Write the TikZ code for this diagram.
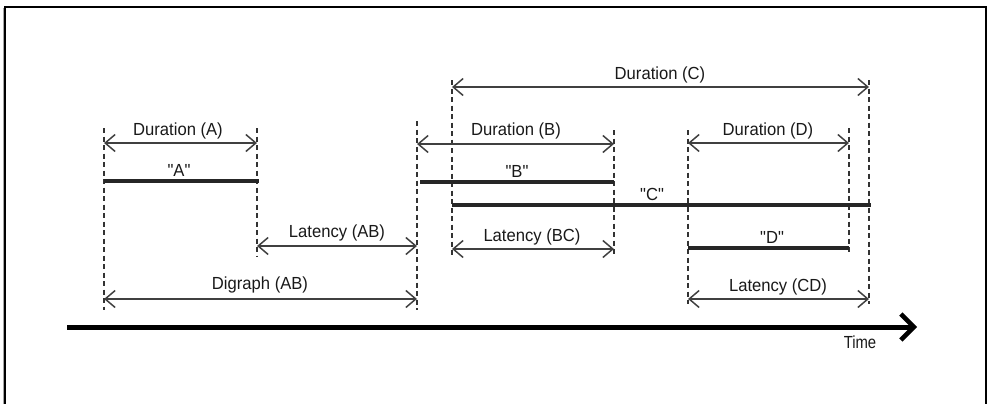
\documentclass[tikz,border=0pt]{standalone}
\usepackage{fontspec}
\newfontfamily\arialfont{Liberation Sans}
\usetikzlibrary{arrows.meta}
\begin{document}
\begin{tikzpicture}[x=1pt,y=-1pt,
  lbl/.style={font=\arialfont\fontsize{17.5}{19}\selectfont, inner sep=0pt, text=black!90, xscale=0.95},
  span/.style={draw=black!75, line width=1.7pt, {Straight Barb[length=10pt,width=17pt,line width=1.5pt]}-{Straight Barb[length=10pt,width=17pt,line width=1.5pt]}},
  event/.style={draw=black!85, line width=3.2pt},
  guide/.style={draw=black!80, line width=1.1pt, dash pattern=on 5pt off 3.5pt},
  timeaxis/.style={draw=black, line width=5pt, -{Straight Barb[length=13pt,width=26pt,line width=4.5pt]}}]
\useasboundingbox (0,0) rectangle (990,404);
% frame
\draw[black!35, line width=1.5pt] (3.5,8) -- (3.5,404);
\draw[black, line width=1.4pt] (5,404) -- (5,7) -- (986,7) -- (986,404);
% guide coordinates
\coordinate (a0t) at (104,128); \coordinate (a0b) at (104,310);
\coordinate (a1t) at (257,128); \coordinate (a1b) at (257,257);
\coordinate (b0t) at (417,121); \coordinate (b0b) at (417,310);
\coordinate (c0t) at (452,80);  \coordinate (c0b) at (452,257);
\coordinate (b1t) at (614,130); \coordinate (b1b) at (614,257);
\coordinate (d0t) at (688,130); \coordinate (d0b) at (688,304);
\coordinate (d1t) at (849,128); \coordinate (d1b) at (849,253);
\coordinate (c1t) at (869,80);  \coordinate (c1b) at (869,304);
\foreach \g in {a0,a1,b0,c0,b1,d0,d1,c1} \draw[guide] (\g t) -- (\g b);
% spans
\coordinate (dc0) at (452,87);  \coordinate (dc1) at (869,87);
\coordinate (da0) at (104,143); \coordinate (da1) at (257,143);
\coordinate (db0) at (417,144); \coordinate (db1) at (614,144);
\coordinate (dd0) at (688,143); \coordinate (dd1) at (849,143);
\coordinate (lab0) at (257,246); \coordinate (lab1) at (417,246);
\coordinate (lbc0) at (452,249); \coordinate (lbc1) at (614,249);
\coordinate (dg0) at (104,299); \coordinate (dg1) at (417,299);
\coordinate (lcd0) at (688,299); \coordinate (lcd1) at (869,299);
\draw[span] (dc0) -- (dc1);
\draw[span] (da0) -- (da1);
\draw[span] (db0) -- (db1);
\draw[span] (dd0) -- (dd1);
\draw[span] (lab0) -- (lab1);
\draw[span] (lbc0) -- (lbc1);
\draw[span] (dg0) -- (dg1);
\draw[span] (lcd0) -- (lcd1);
\node[lbl] (tdc) at (660,75) {Duration (C)};
\node[lbl] (tda) at (178,131) {Duration (A)};
\node[lbl] (tdb) at (516,131) {Duration (B)};
\node[lbl] (tdd) at (768,131) {Duration (D)};
\node[lbl] (tlab) at (337,233) {Latency (AB)};
\node[lbl] (tlbc) at (532,237) {Latency (BC)};
\node[lbl] (tdg) at (260,285) {Digraph (AB)};
\node[lbl] (tlcd) at (778,287) {Latency (CD)};
% events
\coordinate (ea0) at (104,181); \coordinate (ea1) at (259,181);
\coordinate (eb0) at (420,182); \coordinate (eb1) at (614,182);
\coordinate (ec0) at (452,205); \coordinate (ec1) at (871,205);
\coordinate (ed0) at (688,248); \coordinate (ed1) at (849,248);
\draw[event] (ea0) -- (ea1);
\draw[event] (eb0) -- (eb1);
\draw[event] (ec0) -- (ec1);
\draw[event] (ed0) -- (ed1);
\node[lbl] (ta) at (179,170) {"A"};
\node[lbl] (tb) at (517,171) {"B"};
\node[lbl] (tc) at (652,194) {"C"};
\node[lbl] (td) at (772,237) {"D"};
% time axis
\coordinate (t0) at (67,327); \coordinate (t1) at (917,327);
\draw[timeaxis] (t0) -- (t1);
\node[lbl, xscale=0.85/0.95] (ttime) at (860,342) {Time};
\end{tikzpicture}
\end{document}
